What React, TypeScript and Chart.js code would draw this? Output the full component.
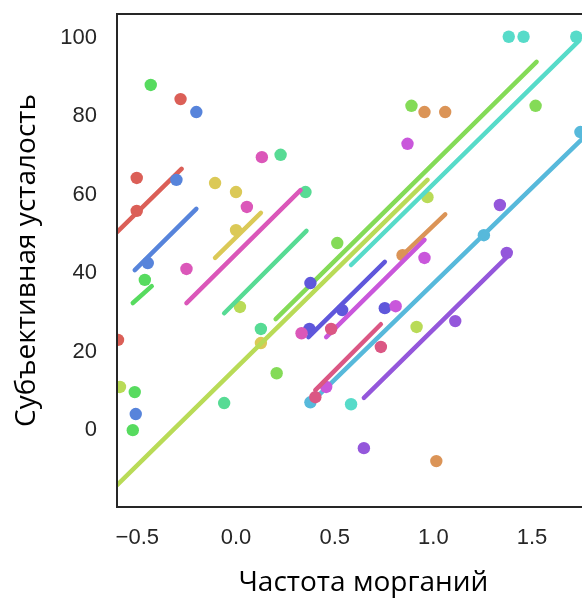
import React, { useEffect, useRef } from "react";
import { Chart, registerables } from "chart.js";

Chart.register(...registerables);

// ---- Data (15 hue groups) ----
const groupX: number[][] = [
  [-0.598, -0.503, -0.503, -0.281],
  [0.844, 0.955, 1.06, 1.015],
  [-0.106, 0.0, 0.0, 0.126],
  [-0.588, 0.02, 0.915, 0.97],
  [0.206, 0.513, 0.889, 1.518],
  [-0.462, -0.432, -0.513, -0.523],
  [-0.06, 0.126, 0.226, 0.352],
  [0.583, 1.382, 1.457, 1.724],
  [0.377, 1.256, 1.745],
  [-0.508, -0.447, -0.302, -0.201],
  [0.372, 0.538, 0.754, 0.377],
  [0.648, 1.111, 1.337, 1.372],
  [0.457, 0.809, 0.869, 0.955],
  [-0.251, 0.055, 0.131, 0.332],
  [0.402, 0.482, 0.734],
];
const groupY: number[][] = [
  [23.0, 64.3, 55.9, 84.4],
  [44.6, 81.1, 81.1, -7.9],
  [63.0, 60.7, 51.0, 22.2],
  [11.0, 31.4, 26.3, 59.4],
  [14.5, 47.7, 82.7, 82.7],
  [38.3, 88.0, 9.7, 0.0],
  [6.9, 25.8, 70.2, 60.7],
  [6.6, 100.3, 100.3, 100.3],
  [7.1, 49.7, 76.0],
  [4.1, 42.6, 63.8, 81.1],
  [25.8, 30.6, 31.1, 37.5],
  [-4.6, 27.8, 57.4, 45.2],
  [11.0, 31.6, 73.0, 43.9],
  [41.1, 56.9, 69.6, 24.7],
  [8.4, 25.8, 21.2],
];
// regression line end points per group
const lineStartX = [-0.603, 0.844, -0.106, -0.603, 0.201, -0.523, -0.06, 0.583, 0.367, -0.513, 0.367, 0.648, 0.457, -0.251, 0.402];
const lineStartY = [50.5, 44.6, 43.9, -14.0, 28.3, 32.4, 29.8, 42.1, 6.4, 40.8, 23.7, 8.2, 23.7, 32.4, 10.2];
const lineEndX = [-0.276, 1.06, 0.126, 0.97, 1.523, -0.427, 0.357, 1.74, 1.8, -0.201, 0.754, 1.372, 0.955, 0.327, 0.734];
const lineEndY = [66.6, 55.0, 55.4, 63.8, 93.9, 36.7, 50.8, 99.4, 76.5, 56.4, 42.9, 44.1, 48.5, 61.2, 27.0];

const xTicks = [-0.5, 0.0, 0.5, 1.0, 1.5];
const yTicks = [0, 20, 40, 60, 80, 100];
const xTitle = "Частота морганий";
const yTitle = "Субъективная усталость";

// ---- Styles ----
const hueOf = (k: number) => 3.6 + (360 / 15) * k;
const colorOf = (k: number) => `hsl(${hueOf(k)}, 65%, 60%)`;

const framePlugin = {
  id: "frame",
  afterDatasetsDraw(chart: any) {
    const { ctx, chartArea: a } = chart;
    ctx.save();
    ctx.strokeStyle = "#262626";
    ctx.lineWidth = 2;
    ctx.strokeRect(a.left, a.top, a.right - a.left, a.bottom - a.top);
    ctx.restore();
  },
};

export default function App() {
  const ref = useRef<HTMLCanvasElement | null>(null);

  useEffect(() => {
    if (!ref.current) return;
    const datasets: any[] = [];
    groupX.forEach((xs, k) => {
      datasets.push({
        type: "scatter",
        data: xs.map((x, i) => ({ x, y: groupY[k][i] })),
        backgroundColor: colorOf(k),
        borderWidth: 0,
        pointRadius: 6.2,
        showLine: false,
        clip: 0,
        order: 100 - 2 * k,
      });
      datasets.push({
        type: "scatter",
        data: [
          { x: lineStartX[k], y: lineStartY[k] },
          { x: lineEndX[k], y: lineEndY[k] },
        ],
        borderColor: colorOf(k),
        backgroundColor: colorOf(k),
        borderWidth: 4.5,
        borderCapStyle: "round",
        pointRadius: 0,
        showLine: true,
        clip: 0,
        order: 100 - 2 * k - 1,
      });
    });

    const tickFont = { family: "'Liberation Sans', Arial, sans-serif", size: 22 };
    const titleFont = { family: "'Open Sans', 'Noto Sans', sans-serif", size: 28 };

    const chart = new Chart(ref.current, {
      type: "scatter",
      data: { datasets },
      plugins: [framePlugin],
      options: {
        responsive: false,
        animation: false,
        events: [],
        layout: { padding: { left: 0, right: 1, top: 14, bottom: 0 } },
        plugins: { legend: { display: false }, tooltip: { enabled: false } },
        scales: {
          x: {
            type: "linear",
            min: -0.603,
            max: 1.894,
            afterBuildTicks: (s: any) => {
              s.ticks = xTicks.map((v) => ({ value: v }));
            },
            afterFit: (s: any) => {
              s.height = 94;
              s.paddingLeft = 0;
              s.paddingRight = 0;
            },
            grid: { display: false, drawTicks: false },
            border: { display: false },
            ticks: {
              padding: 18,
              color: "#262626",
              font: tickFont,
              maxRotation: 0,
              callback: (v: any) => (v < 0 ? "\u2212" : "") + Math.abs(Number(v)).toFixed(1),
            },
            title: {
              display: true,
              text: xTitle,
              color: "#000",
              font: titleFont,
              padding: { top: 0, bottom: 1 },
            },
          },
          y: {
            type: "linear",
            min: -19.6,
            max: 106.1,
            afterBuildTicks: (s: any) => {
              s.ticks = yTicks.map((v) => ({ value: v }));
            },
            afterFit: (s: any) => {
              s.width = 117;
              s.paddingTop = 0;
              s.paddingBottom = 0;
            },
            grid: { display: false, drawTicks: false },
            border: { display: false },
            ticks: {
              padding: 20,
              color: "#262626",
              font: tickFont,
              callback: (v: any) => String(Math.round(Number(v))),
            },
            title: {
              display: true,
              text: yTitle,
              color: "#000",
              font: titleFont,
              padding: { top: 10, bottom: 0 },
            },
          },
        },
      } as any,
    });
    return () => chart.destroy();
  }, []);

  return (
    <div
      style={{
        position: "fixed",
        left: 0,
        top: 0,
        width: 582,
        height: 601,
        overflow: "hidden",
        background: "#fff",
      }}
    >
      <div style={{ width: 616, height: 601, position: "relative" }}>
        <canvas ref={ref} width={616} height={601} style={{ display: "block", width: 616, height: 601 }} />
      </div>
    </div>
  );
}
